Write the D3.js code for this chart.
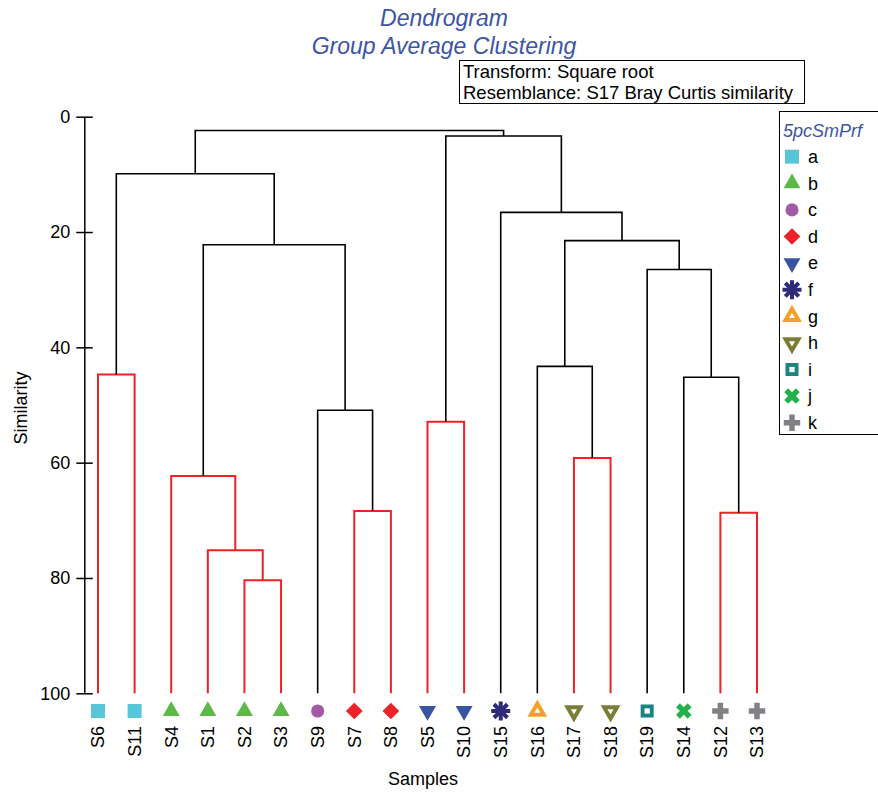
<!DOCTYPE html>
<html>
<head>
<meta charset="utf-8">
<script src="https://cdn.jsdelivr.net/npm/d3@7"></script>
<style>
  body { margin: 0; background: #fff; }
  svg { display: block; font-family: "Liberation Sans", Arial, sans-serif; }
  .title { fill: #3c55a5; font-style: italic; font-size: 23px; }
</style>
</head>
<body>
<svg id="chart" width="878" height="792"></svg>
<script>
// leaves, left to right, with their factor level
const samples = ['S6','S11','S4','S1','S2','S3','S9','S7','S8','S5','S10','S15','S16','S17','S18','S19','S14','S12','S13'];
const groups  = ['a','a','b','b','b','b','c','d','d','e','e','f','g','h','h','i','j','k','k'];
// merges: [id, left, right, similarity, red = no significant structure below (SIMPROF)]
const merges = [
  ['m1', 'S2', 'S3', 80.4, true],
  ['m2', 'S1', 'm1', 75.2, true],
  ['m3', 'S4', 'm2', 62.3, true],
  ['m4', 'S7', 'S8', 68.4, true],
  ['m5', 'S9', 'm4', 50.9, false],
  ['m6', 'm3', 'm5', 22.2, false],
  ['m7', 'S6', 'S11', 44.7, true],
  ['m8', 'm7', 'm6', 9.9, false],
  ['m9', 'S5', 'S10', 52.9, true],
  ['m10', 'S17', 'S18', 59.2, true],
  ['m11', 'S16', 'm10', 43.3, false],
  ['m12', 'S12', 'S13', 68.7, true],
  ['m13', 'S14', 'm12', 45.2, false],
  ['m14', 'S19', 'm13', 26.5, false],
  ['m15', 'm11', 'm14', 21.5, false],
  ['m16', 'S15', 'm15', 16.6, false],
  ['m17', 'm9', 'm16', 3.35, false],
  ['m18', 'm8', 'm17', 2.4, false]
];
const yTicks = [0, 20, 40, 60, 80, 100];
const levels = ['a','b','c','d','e','f','g','h','i','j','k'];
const titleLines = ['Dendrogram', 'Group Average Clustering'];
const infoLines = ['Transform: Square root', 'Resemblance: S17 Bray Curtis similarity'];

const RED = '#ec2227';
// symbol style per level: shape, colour, rotation, hollow inner
const SYM = {
  a: {type: d3.symbolSquare, size: 196, color: '#56c7d9'},
  b: {type: d3.symbolTriangle, size: 125, color: '#5cb947'},
  c: {type: d3.symbolCircle, size: 135, color: '#a45aa6'},
  d: {type: d3.symbolSquare, size: 140, color: '#ec2227', rot: 45},
  e: {type: d3.symbolTriangle, size: 125, color: '#3a54a4', rot: 180},
  f: {star: true, color: '#2e2b78'},
  g: {type: d3.symbolTriangle, size: 170, color: '#f6a02a', inner: 16},
  h: {type: d3.symbolTriangle, size: 170, color: '#7a7c37', rot: 180, inner: 16},
  i: {type: d3.symbolSquare, size: 170, color: '#1b8482', inner: 28},
  j: {type: d3.symbolCross, size: 150, color: '#22b14c', rot: 45},
  k: {type: d3.symbolCross, size: 150, color: '#808184'}
};

const svg = d3.select('#chart');
const x = d3.scalePoint().domain(samples).range([98, 757]);
const y = d3.scaleLinear().domain([0, 100]).range([116.7, 693.3]);

function drawSymbol(g, lvl, cx, cy) {
  const s = SYM[lvl];
  const t = `translate(${cx},${cy})`;
  if (s.star) {
    [d3.symbolPlus, d3.symbolTimes].forEach(tp => {
      g.append('path').attr('d', d3.symbol(tp, 120)()).attr('transform', t)
        .attr('fill', 'none').attr('stroke', s.color).attr('stroke-width', 4);
    });
    return;
  }
  const rt = t + (s.rot ? ` rotate(${s.rot})` : '');
  g.append('path').attr('d', d3.symbol(s.type, s.size)()).attr('transform', rt).attr('fill', s.color);
  if (s.inner) {
    g.append('path').attr('d', d3.symbol(s.type, s.inner)()).attr('transform', rt).attr('fill', '#fff');
  }
}

// titles
svg.selectAll('.title').data(titleLines).join('text')
  .attr('class', 'title').attr('x', 444).attr('y', (d, i) => 26 + i * 28)
  .attr('text-anchor', 'middle').text(d => d);

// info box
svg.append('rect').attr('x', 459.5).attr('y', 60.5).attr('width', 345).attr('height', 43)
  .attr('fill', '#fff').attr('stroke', '#000').attr('stroke-width', 1);
svg.selectAll('.info').data(infoLines).join('text')
  .attr('class', 'info').attr('x', 463).attr('y', (d, i) => 78 + i * 21)
  .style('font-size', '18.5px').text(d => d);

// y axis
const axis = svg.append('g').attr('transform', 'translate(84.3,0)')
  .call(d3.axisLeft(y).tickValues(yTicks).tickSizeInner(8).tickSizeOuter(0).tickPadding(6));
axis.select('.domain').attr('stroke-width', 1.5);
axis.selectAll('.tick line').attr('x1', 8.5).attr('stroke-width', 1.5);
axis.selectAll('.tick text').style('font-size', '18px').style('font-family', '"Liberation Sans", Arial, sans-serif').attr('fill', '#000');

svg.append('text').attr('transform', 'translate(21,408) rotate(-90)')
  .attr('text-anchor', 'middle').attr('dy', '0.35em').style('font-size', '18px').text('Similarity');

// dendrogram
const nodes = {};
samples.forEach(s => nodes[s] = {x: x(s), y: y(100)});
const gTree = svg.append('g').attr('fill', 'none');
merges.forEach(([id, l, r, sim, red]) => {
  const a = nodes[l], b = nodes[r], yy = y(sim);
  nodes[id] = {x: (a.x + b.x) / 2, y: yy};
  gTree.append('path')
    .attr('d', `M${a.x},${a.y}V${yy}H${b.x}V${b.y}`)
    .attr('stroke', red ? RED : '#000')
    .attr('stroke-width', red ? 2 : 1.6);
});

// leaf symbols and labels
const gLeaf = svg.append('g');
samples.forEach((s, i) => drawSymbol(gLeaf, groups[i], x(s), 711));
svg.selectAll('.leaf').data(samples).join('text')
  .attr('class', 'leaf')
  .attr('transform', d => `translate(${x(d)},726) rotate(-90)`)
  .attr('text-anchor', 'end').attr('dy', '0.35em').style('font-size', '18px').text(d => d);

svg.append('text').attr('x', 423).attr('y', 785).attr('text-anchor', 'middle')
  .style('font-size', '18px').text('Samples');

// legend
const gLeg = svg.append('g');
gLeg.append('rect').attr('x', 779.5).attr('y', 111.5).attr('width', 130).attr('height', 323)
  .attr('fill', '#fff').attr('stroke', '#000').attr('stroke-width', 1);
gLeg.append('text').attr('x', 783).attr('y', 137).attr('fill', '#3c55a5')
  .style('font-style', 'italic').style('font-size', '18px').text('5pcSmPrf');
levels.forEach((lv, i) => {
  const cy = 156.7 + i * 26.6;
  drawSymbol(gLeg, lv, 792, cy);
  gLeg.append('text').attr('x', 808).attr('y', cy).attr('dy', '0.35em')
    .style('font-size', '18px').text(lv);
});
</script>
</body>
</html>
